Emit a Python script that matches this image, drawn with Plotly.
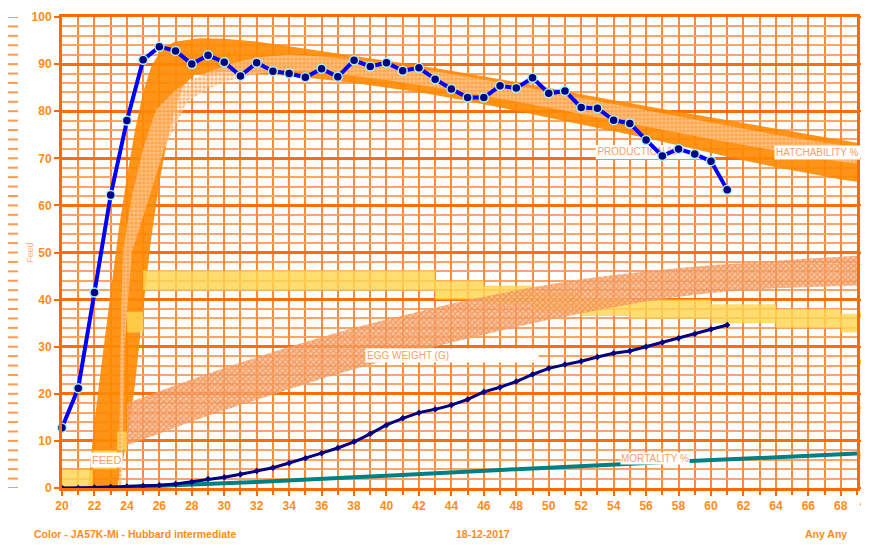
import plotly.graph_objects as go

# ---------------- data ----------------
weeks_actual = list(range(20, 62))
production_pct = [12.8, 21.2, 41.5, 62.2, 78.0, 90.9, 93.7, 92.8, 90.0, 91.9, 90.4, 87.5,
                  90.3, 88.5, 88.0, 87.2, 89.0, 87.3, 90.8, 89.5, 90.3, 88.6, 89.2, 86.8,
                  84.7, 82.9, 82.9, 85.4, 84.9, 87.1, 83.8, 84.3, 80.8, 80.6, 78.1, 77.4,
                  73.9, 70.5, 72.0, 70.9, 69.4, 63.3]
mortality_actual = [0, 0, 0.1, 0.2, 0.3, 0.4, 0.6, 0.85, 1.3, 1.9, 2.3, 2.9, 3.6, 4.3,
                    5.3, 6.3, 7.4, 8.5, 9.8, 11.5, 13.4, 14.8, 16.0, 16.7, 17.6, 18.8,
                    20.4, 21.4, 22.6, 24.1, 25.4, 26.2, 26.9, 27.8, 28.6, 29.1, 30.0,
                    30.9, 31.8, 32.7, 33.7, 34.6]

mort_std_weeks = [24, 26, 28, 30, 32, 34, 36, 38, 40, 42, 44, 46, 48, 50, 52, 54, 56,
                  58, 60, 62, 64, 66, 68, 69]
mort_std_pct = [0.2, 0.4, 0.7, 1.0, 1.3, 1.7, 2.0, 2.3, 2.6, 3.0, 3.3, 3.7, 4.0, 4.3,
                4.7, 5.0, 5.3, 5.6, 5.9, 6.2, 6.5, 6.8, 7.1, 7.3]

hatch_top_weeks = [21.6, 22.0, 22.5, 23.0, 23.5, 24.0, 24.5, 25.0, 25.5, 26.2, 27.0, 28.5,
                   30, 32, 34, 36, 38, 40, 42, 44, 46, 48, 50, 52, 54, 56, 58, 60, 62,
                   64, 66, 68, 69]
hatch_top = [0, 14, 28, 42, 55, 66, 76, 84, 89.5, 93.5, 94.8, 95.5, 95.4, 94.8, 93.8,
             92.8, 91.8, 90.8, 89.7, 88.6, 87.4, 86.2, 85.0, 83.6, 82.3, 81.1, 79.9,
             78.7, 77.5, 76.3, 75.1, 73.9, 73.3]
hatch_bot_weeks = [23.4, 24.0, 24.5, 25.0, 25.5, 26.0, 26.5, 27.0, 27.5, 28.2, 30, 32, 34,
                   36, 38, 40, 42, 44, 46, 48, 50, 52, 54, 56, 58, 60, 62, 64, 66, 68, 69]
hatch_bot = [0, 10, 22, 38, 53, 65, 74, 81, 85.5, 87.8, 88.3, 88.0, 87.5, 86.8, 86.0,
             85.0, 84.0, 82.8, 81.5, 80.1, 78.6, 77.1, 75.7, 74.3, 72.7, 71.1, 69.6,
             68.1, 66.8, 65.5, 65.0]

prod_std_top_weeks = [23.5, 23.6, 23.75, 24.3, 25.0, 25.8, 27.0, 28.0, 29.0, 30.5,
                      32, 34, 36, 38, 40, 42, 44, 46, 48, 50, 52, 54, 56, 58, 60, 62, 64,
                      66, 68, 69]
prod_std_top = [0, 30, 50, 61.8, 72, 80.3, 84.5, 86.6, 88.3, 90.2, 91.4, 92.0, 91.6,
                90.9, 90.0, 89.0, 87.9, 86.7, 85.5, 84.2, 82.8, 81.5, 80.1, 78.8, 77.5,
                76.2, 75.0, 73.9, 72.8, 72.3]
prod_std_bot_weeks = [23.7, 23.85, 24.3, 25.3, 26.3, 27.7, 29.0, 30.5, 32, 34, 36,
                      38, 40, 42, 44, 46, 48, 50, 52, 54, 56, 58, 60, 62, 64, 66, 68, 69]
prod_std_bot = [0, 30, 50, 61, 72, 82, 84.8, 86.7, 88.0, 88.6, 88.2, 87.5, 86.6,
                85.6, 84.5, 83.3, 82.1, 80.8, 79.4, 78.1, 76.7, 75.4, 74.1, 72.8, 71.6,
                70.4, 69.3, 68.8]

egg_weeks = [24, 26, 28, 30, 32, 34, 36, 38, 40, 42, 44, 46, 48, 50, 52, 54, 56, 58, 60,
             62, 64, 66, 68, 69]
egg_top = [18.0, 20.6, 23.1, 25.5, 27.8, 30.0, 32.0, 34.0, 35.8, 37.5, 39.1, 40.6, 42.0,
           43.2, 44.3, 45.2, 46.0, 46.7, 47.3, 47.8, 48.3, 48.7, 49.1, 49.3]
egg_bot = [9.0, 11.6, 14.1, 16.5, 18.8, 21.0, 23.2, 25.2, 27.2, 29.1, 30.9, 32.6, 34.2,
           35.7, 37.1, 38.4, 39.6, 40.6, 41.4, 42.0, 42.4, 42.7, 42.9, 43.0]

feed_weeks = [20, 21.9, 23.4, 24, 25, 43, 46, 49, 52, 55, 60, 64, 68, 69]
feed_top = [3.8, 8, 12, 37.4, 46.2, 44, 43, 41.5, 40.5, 40, 39, 38, 37, 37]
feed_bot = [0, 4, 8, 33, 42, 40, 39, 37.5, 36.5, 36, 35, 34, 33, 33]

x_tick_vals = list(range(20, 70, 2))
y_tick_vals = list(range(0, 101, 10))
dash_vals = list(range(0, 101, 2))
right_tick_vals = list(range(0, 101, 10))
# right-hand axis labels: only their first digit shows at the picture's edge
right_label_vals = [0, 10, 20, 30, 40, 50]
right_label_text = ["4", "5", "5", "6", "6", "7"]

# ---------------- styling ----------------
FONT = "Liberation Sans"
AX_ORANGE = "#FF8C1A"
LINE_ORANGE = "#FF6A00"
LABEL_ORANGE = "#FBA064"

fig = go.Figure()

# hatchability standard band (solid)
fig.add_trace(go.Scatter(x=hatch_top_weeks + hatch_bot_weeks[::-1],
                         y=hatch_top + hatch_bot[::-1], mode="lines", line=dict(width=0),
                         fill="toself", fillcolor="rgba(255,136,0,0.9)",
                         hoverinfo="skip", showlegend=False))

# feed band (stepped)
fig.add_trace(go.Scatter(x=feed_weeks, y=feed_bot, mode="lines", line=dict(width=0, shape="hv"),
                         hoverinfo="skip", showlegend=False))
fig.add_trace(go.Scatter(x=feed_weeks, y=feed_top, mode="lines", line=dict(width=0, shape="hv"),
                         fill="tonexty", fillcolor="rgba(255,214,80,0.82)",
                         hoverinfo="skip", showlegend=False))

# production standard band (hatched)
fig.add_trace(go.Scatter(x=prod_std_top_weeks + prod_std_bot_weeks[::-1],
                         y=prod_std_top + prod_std_bot[::-1], mode="lines", line=dict(width=0),
                         fill="toself",
                         fillpattern=dict(shape=".", fgcolor="#FF8C1A",
                                          bgcolor="rgba(255,220,190,0.6)", size=4, solidity=0.5),
                         hoverinfo="skip", showlegend=False))

# production label box (behind the production line)
fig.add_shape(type="rect", xref="x", yref="y", x0=52.9, x1=59.4, y0=69.8, y1=72.8,
              fillcolor="white", line=dict(width=0), layer="between")
fig.add_trace(go.Scatter(x=[53.0], y=[71.3], mode="text", text=["PRODUCTION %"],
                         textposition="middle right",
                         textfont=dict(family=FONT, size=10, color=LABEL_ORANGE),
                         hoverinfo="skip", showlegend=False))

# mortality standard
fig.add_trace(go.Scatter(x=mort_std_weeks, y=mort_std_pct, mode="lines",
                         line=dict(color="#008080", width=4), hoverinfo="skip",
                         showlegend=False))

# cumulative mortality actual
fig.add_trace(go.Scatter(x=weeks_actual, y=mortality_actual, mode="lines+markers",
                         line=dict(color="#000080", width=3),
                         marker=dict(symbol="diamond", size=5, color="#000080"),
                         cliponaxis=False, hoverinfo="skip", showlegend=False))

# production actual
fig.add_trace(go.Scatter(x=weeks_actual, y=production_pct, mode="lines+markers",
                         line=dict(color="#0000FF", width=4),
                         marker=dict(symbol="circle", size=9, color="#000080",
                                     line=dict(color="#A8F0F0", width=1.5)),
                         cliponaxis=False, hoverinfo="skip", showlegend=False))

# egg weight band (right axis)
fig.add_trace(go.Scatter(x=egg_weeks + egg_weeks[::-1], y=egg_top + egg_bot[::-1],
                         mode="lines", line=dict(width=0), fill="toself",
                         fillpattern=dict(shape="x", fgcolor="#EE7424",
                                          bgcolor="rgba(247,180,135,0.75)", size=4, solidity=0.6),
                         yaxis="y2", hoverinfo="skip", showlegend=False))

# left decorative dashes
for v in dash_vals:
    fig.add_shape(type="line", xref="paper", yref="y", x0=-0.0686, x1=-0.0553, y0=v, y1=v,
                  line=dict(color="#FF9A50", width=2), layer="above")

tickfont = dict(family=FONT, size=12, color=AX_ORANGE, weight="bold")

# the page adds an 8 px body margin, so the figure is 8 px smaller on each side
fig.update_layout(
    width=861, height=540,
    margin=dict(l=54, r=12, t=9, b=60, autoexpand=False),
    paper_bgcolor="white", plot_bgcolor="white",
    font=dict(family=FONT),
    xaxis=dict(range=[20, 69], tickvals=x_tick_vals, tickfont=tickfont, automargin=False,
               showgrid=True, gridcolor="#FF8A3A", gridwidth=2,
               minor=dict(dtick=1, tick0=20, showgrid=True, gridcolor="#FF8A3A", gridwidth=2,
                          ticks="outside", ticklen=4, tickcolor=LINE_ORANGE, tickwidth=1.5),
               showline=True, linecolor=LINE_ORANGE, linewidth=3, mirror=True,
               ticks="outside", ticklen=5, tickcolor=LINE_ORANGE, tickwidth=2,
               zeroline=False),
    yaxis=dict(range=[0, 100], tickvals=y_tick_vals, tickfont=tickfont, automargin=False,
               showgrid=True, gridcolor="#FF6E0A", gridwidth=3,
               minor=dict(dtick=2, tick0=0, showgrid=True, gridcolor="#FFA468", gridwidth=1.5),
               showline=True, linecolor=LINE_ORANGE, linewidth=3, mirror=True,
               ticks="outside", ticklen=5, tickcolor=LINE_ORANGE, tickwidth=2,
               zeroline=False),
    yaxis2=dict(range=[0, 100], overlaying="y", side="right", tickvals=right_tick_vals,
                showticklabels=False, showgrid=False, automargin=False,
                ticks="outside", ticklen=4, tickcolor=LINE_ORANGE, tickwidth=2,
                zeroline=False, showline=False),
)

label_font = dict(family=FONT, size=10, color=LABEL_ORANGE)
bottom_font = dict(family=FONT, size=10.5, color=AX_ORANGE, weight="bold")
annotations = [
    dict(x=63.9, y=71.3, xref="x", yref="y", text="HATCHABILITY %", showarrow=False,
         xanchor="left", font=label_font, bgcolor="white", borderpad=1),
    dict(x=38.67, y=28.2, xref="x", yref="y", text="EGG WEIGHT (G)", showarrow=False,
         xanchor="left", align="left", width=170, font=label_font, bgcolor="white",
         borderpad=1),
    dict(x=54.4, y=6.2, xref="x", yref="y", text="MORTALITY %", showarrow=False,
         xanchor="left", font=label_font, bgcolor="white", borderpad=0),
    dict(x=21.7, y=5.9, xref="x", yref="y", text="FEED", showarrow=False,
         xanchor="left", font=dict(family=FONT, size=11, color=LABEL_ORANGE),
         bgcolor="white", borderpad=1),
    dict(x=-0.0497, y=0.5, xref="paper", yref="paper", text="Feed", showarrow=False,
         textangle=-90, font=dict(family=FONT, size=9, color="#FFB080")),
    dict(x=-0.0377, y=-0.1146, xref="paper", yref="paper",
         text="Color - JA57K-Mi - Hubbard intermediate", showarrow=False, xanchor="left",
         font=bottom_font),
    dict(x=0.529, y=-0.1146, xref="paper", yref="paper", text="18-12-2017",
         showarrow=False, xanchor="center", font=bottom_font),
    dict(x=0.9616, y=-0.1146, xref="paper", yref="paper", text="Any Any",
         showarrow=False, xanchor="center", font=bottom_font),
]
for v, t in zip(right_label_vals, right_label_text):
    annotations.append(dict(x=1.002, y=v, xref="paper", yref="y2", text=t, showarrow=False,
                            xanchor="left", yshift=-15, borderpad=0,
                            font=dict(family=FONT, size=11.5, color=AX_ORANGE, weight="bold")))
fig.update_layout(annotations=annotations)

fig.write_html("out.html")
